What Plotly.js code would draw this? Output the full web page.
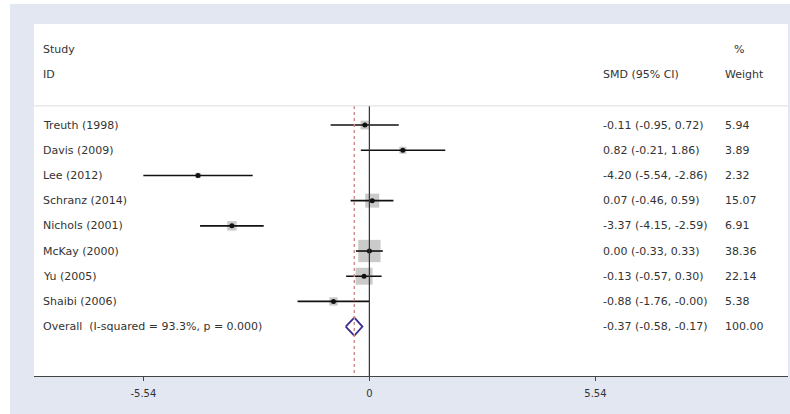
<!DOCTYPE html>
<html>
<head>
<meta charset="utf-8">
<script src="https://cdn.plot.ly/plotly-3.0.1.min.js"></script>
<style>
html,body{margin:0;padding:0;background:#ffffff;width:790px;height:414px;overflow:hidden;}
#chart{position:absolute;left:10px;top:4px;width:780px;height:410px;}
</style>
</head>
<body>
<div id="chart"></div>
<script>
// Data
const studies = ["Treuth (1998)","Davis (2009)","Lee (2012)","Schranz (2014)","Nichols (2001)","McKay (2000)","Yu (2005)","Shaibi (2006)"];
const smd     = [-0.11, 0.82, -4.20, 0.07, -3.37, 0.00, -0.13, -0.88];
const ciLow   = [-0.95, -0.21, -5.54, -0.46, -4.15, -0.33, -0.57, -1.76];
const ciHigh  = [0.72, 1.86, -2.86, 0.59, -2.59, 0.33, 0.30, -0.00];
const weights = [5.94, 3.89, 2.32, 15.07, 6.91, 38.36, 22.14, 5.38];
const ciText  = ["-0.11 (-0.95, 0.72)","0.82 (-0.21, 1.86)","-4.20 (-5.54, -2.86)","0.07 (-0.46, 0.59)","-3.37 (-4.15, -2.59)","0.00 (-0.33, 0.33)","-0.13 (-0.57, 0.30)","-0.88 (-1.76, -0.00)"];
const weightText = ["5.94","3.89","2.32","15.07","6.91","38.36","22.14","5.38"];
const overallLabel = "Overall\u00a0\u00a0(I-squared = 93.3%, p = 0.000)";
const overallEst = -0.37, overallLow = -0.58, overallHigh = -0.17;
const overallCiText = "-0.37 (-0.58, -0.17)";
const overallWeightText = "100.00";
const tickVals = [-5.54, 0, 5.54];
const tickText = ["-5.54", "0", "5.54"];

const n = studies.length;
const rows = studies.map((_, i) => i);
const overallRow = n;

// CI lines
const lx = [], ly = [];
for (let i = 0; i < n; i++) { lx.push(ciLow[i], ciHigh[i], null); ly.push(i, i, null); }

const traces = [];
// weight boxes
traces.push({
  type: 'scatter', mode: 'markers', x: smd, y: rows,
  marker: {symbol: 'square', size: weights.map(w => 3.6 * Math.sqrt(w)), color: '#b4b4b4', line: {width: 0}},
  hoverinfo: 'skip', showlegend: false
});
// CI lines
traces.push({
  type: 'scatter', mode: 'lines', x: lx, y: ly,
  line: {color: '#111111', width: 1.6}, hoverinfo: 'skip', showlegend: false
});
// point estimates
traces.push({
  type: 'scatter', mode: 'markers', x: smd, y: rows,
  marker: {symbol: 'circle', size: 5, color: '#111111'}, hoverinfo: 'skip', showlegend: false
});
// overall diamond
const dh = 0.36;
traces.push({
  type: 'scatter', mode: 'lines',
  x: [overallLow, overallEst, overallHigh, overallEst, overallLow],
  y: [overallRow, overallRow - dh, overallRow, overallRow + dh, overallRow],
  fill: 'toself', fillcolor: '#ffffff',
  line: {color: '#3a2f8f', width: 1.8}, hoverinfo: 'skip', showlegend: false
});
// overall dashed line
const yTop = -0.76, yBot = 9.96;
traces.push({
  type: 'scatter', mode: 'lines', x: [overallEst, overallEst], y: [yTop, yBot],
  line: {color: '#cf8a8a', width: 1.4, dash: 'dot'}, hoverinfo: 'skip', showlegend: false
});
// null line
traces.push({
  type: 'scatter', mode: 'lines', x: [0, 0], y: [yTop, yBot],
  line: {color: '#333333', width: 1.2}, hoverinfo: 'skip', showlegend: false
});

const font = {family: 'DejaVu Sans, Arial, sans-serif', size: 11, color: '#333333'};
const annotations = [];
function txt(x, y, t) {
  annotations.push({xref: 'paper', yref: 'y', x: x, y: y, text: t, showarrow: false,
    xanchor: 'left', yanchor: 'middle', font: font});
}
const xLab = 0.0095, xCi = 0.7525, xW = 0.9135;
txt(xLab, -2.99, "Study");
txt(xLab, -1.99, "ID");
txt(xCi, -1.99, "SMD (95% CI)");
txt(0.926, -2.99, "%");
txt(xW, -1.99, "Weight");
for (let i = 0; i < n; i++) {
  txt(xLab, i, studies[i]);
  txt(xCi, i, ciText[i]);
  txt(xW, i, weightText[i]);
}
txt(xLab, overallRow, overallLabel);
txt(xCi, overallRow, overallCiText);
txt(xW, overallRow, overallWeightText);

const layout = {
  width: 780, height: 410,
  margin: {l: 24, r: 2, t: 20, b: 38},
  paper_bgcolor: '#e3e7f2', plot_bgcolor: '#ffffff',
  showlegend: false,
  xaxis: {
    range: [-8.22, 10.26], tickvals: tickVals, ticktext: tickText,
    showgrid: false, zeroline: false, showline: true, linecolor: '#444444', linewidth: 1,
    ticks: 'outside', ticklen: 4, tickcolor: '#444444', ticklabelstandoff: 4,
    tickfont: {family: 'DejaVu Sans, Arial, sans-serif', size: 10, color: '#333333'}
  },
  yaxis: {
    range: [9.96, -4.01], showgrid: false, zeroline: false, showline: false,
    showticklabels: false, ticks: ''
  },
  shapes: [{type: 'line', xref: 'paper', yref: 'y', x0: 0, x1: 1, y0: yTop, y1: yTop,
    line: {color: '#dcdcdc', width: 1}}],
  annotations: annotations
};

Plotly.newPlot('chart', traces, layout, {displayModeBar: false, staticPlot: true});
</script>
</body>
</html>
